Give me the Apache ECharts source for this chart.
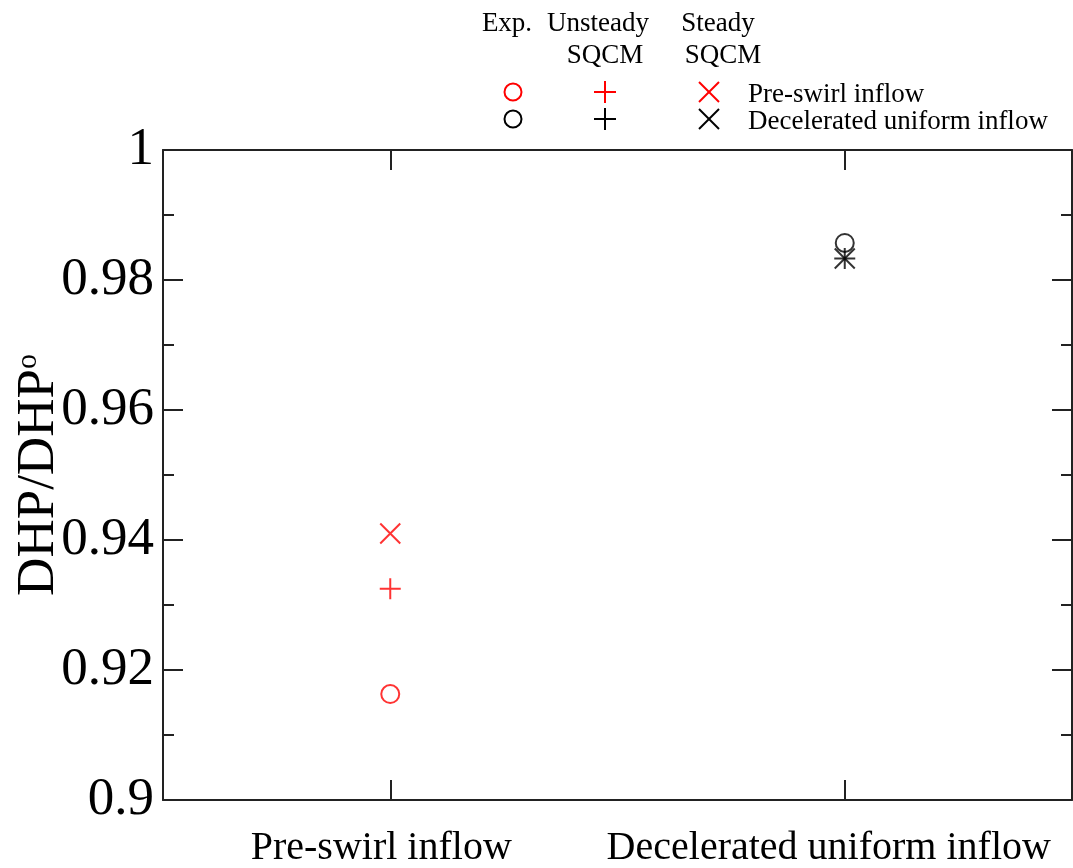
<!DOCTYPE html>
<html>
<head>
<meta charset="utf-8">
<script src="https://cdn.jsdelivr.net/npm/echarts@6/dist/echarts.min.js"></script>
<style>
html,body{margin:0;padding:0;background:#fff;}
#chart{width:1073px;height:868px;}
</style>
</head>
<body>
<div id="chart"></div>
<script>
// ---- data ----
const categories = ['Pre-swirl inflow', 'Decelerated uniform inflow'];
const categoryColors = ['#ff0000', '#000000'];
const expValues = [0.9163, 0.9857];
const unsteadyValues = [0.9325, 0.9833];
const steadyValues = [0.9410, 0.9833];
const yTicks = { min: 0.9, max: 1.0, interval: 0.02 };

const FONT = '"Liberation Serif", "Times New Roman", serif';
const PLUS = 'path://M0,10L20,10M10,0L10,20';
const CROSS = 'path://M0,0L20,20M20,0L0,20';

function pts(values) {
  return values.map((v, i) => ({
    value: [categories[i], v],
    itemStyle: { color: 'transparent', borderColor: categoryColors[i] }
  }));
}

const chart = echarts.init(document.getElementById('chart'), null, { renderer: 'canvas' });

const axisLine = { show: true, lineStyle: { color: '#222', width: 2 } };

const legendCols = { exp: 513, uns: 605, st: 709 };
const legendRows = [92, 119];
const graphics = [];
// headers
[['Exp.', 507, 24], ['Unsteady', 598, 24], ['SQCM', 605, 56], ['Steady', 718, 24], ['SQCM', 723, 56]].forEach(h => {
  graphics.push({ type: 'text', x: h[1], y: h[2],
    style: { text: h[0], font: '27px ' + FONT, fill: '#000', align: 'center', verticalAlign: 'middle',
             textAlign: 'center', textVerticalAlign: 'middle' } });
});
legendRows.forEach((y, r) => {
  const c = categoryColors[r];
  const ls = { stroke: c, lineWidth: 2 };
  graphics.push({ type: 'circle', x: legendCols.exp, y: y, shape: { cx: 0, cy: 0, r: 8.5 },
    style: { fill: 'none', stroke: c, lineWidth: 2 } });
  const ux = legendCols.uns, sx = legendCols.st;
  graphics.push({ type: 'line', shape: { x1: ux - 11, y1: y, x2: ux + 11, y2: y }, style: ls });
  graphics.push({ type: 'line', shape: { x1: ux, y1: y - 11, x2: ux, y2: y + 11 }, style: ls });
  graphics.push({ type: 'line', shape: { x1: sx - 10, y1: y - 10, x2: sx + 10, y2: y + 10 }, style: ls });
  graphics.push({ type: 'line', shape: { x1: sx + 10, y1: y - 10, x2: sx - 10, y2: y + 10 }, style: ls });
  graphics.push({ type: 'text', x: 748, y: y + 3,
    style: { text: categories[r], font: '27px ' + FONT, fill: '#000', align: 'left', verticalAlign: 'middle',
             textAlign: 'left', textVerticalAlign: 'middle' } });
});

const option = {
  animation: false,
  backgroundColor: '#fff',
  grid: { left: 163, right: 1, top: 150, bottom: 68, containLabel: false, outerBoundsMode: 'none' },
  xAxis: [
    {
      type: 'category', data: categories, position: 'bottom',
      axisLine: axisLine,
      axisTick: { show: true, inside: true, alignWithLabel: true, length: 20, lineStyle: { color: '#222', width: 2 } },
      axisLabel: {
        color: '#000', fontFamily: FONT, fontSize: 40, margin: 28, interval: 0, hideOverlap: false,
        formatter: (v, i) => '{c' + i + '|' + v + '}',
        rich: {
          c0: { fontSize: 40, fontFamily: FONT, color: '#000', padding: [0, 18, 0, 0] },
          c1: { fontSize: 40, fontFamily: FONT, color: '#000', padding: [0, 32, 0, 0] }
        }
      },
      splitLine: { show: false }
    },
    {
      type: 'category', data: categories, position: 'top',
      axisLine: axisLine,
      axisTick: { show: true, inside: true, alignWithLabel: true, length: 20, lineStyle: { color: '#222', width: 2 } },
      axisLabel: { show: false },
      splitLine: { show: false }
    }
  ],
  yAxis: [
    {
      type: 'value', position: 'left', min: yTicks.min, max: yTicks.max, interval: yTicks.interval,
      axisLine: axisLine,
      axisTick: { show: true, inside: true, length: 20, lineStyle: { color: '#222', width: 2 } },
      minorTick: { show: true, splitNumber: 2, length: 11, lineStyle: { color: '#222', width: 2 } },
      axisLabel: { color: '#000', fontFamily: FONT, fontSize: 53, margin: 9 },
      splitLine: { show: false },
      name: '{m|DHP/DHP}{s|o}',
      nameLocation: 'middle', nameRotate: 90, nameGap: 97, nameMoveOverlap: false,
      nameTextStyle: {
        color: '#000', fontFamily: FONT, lineHeight: 53,
        rich: {
          m: { fontSize: 53, lineHeight: 53, fontFamily: FONT, color: '#000' },
          s: { fontSize: 30, lineHeight: 24, fontFamily: FONT, color: '#000', verticalAlign: 'top' }
        }
      }
    },
    {
      type: 'value', position: 'right', min: yTicks.min, max: yTicks.max, interval: yTicks.interval,
      axisLine: axisLine,
      axisTick: { show: true, inside: true, length: 20, lineStyle: { color: '#222', width: 2 } },
      minorTick: { show: true, splitNumber: 2, length: 11, lineStyle: { color: '#222', width: 2 } },
      axisLabel: { show: false },
      splitLine: { show: false }
    }
  ],
  series: [
    { name: 'Exp.', type: 'scatter', symbol: 'circle', symbolSize: 18,
      itemStyle: { borderWidth: 2 }, data: pts(expValues), z: 3 },
    { name: 'Unsteady SQCM', type: 'scatter', symbol: PLUS, symbolSize: 21,
      itemStyle: { borderWidth: 2 }, data: pts(unsteadyValues), z: 4 },
    { name: 'Steady SQCM', type: 'scatter', symbol: CROSS, symbolSize: 20,
      itemStyle: { borderWidth: 2 }, data: pts(steadyValues), z: 5 }
  ],
  graphic: graphics
};
chart.setOption(option);
</script>
</body>
</html>
